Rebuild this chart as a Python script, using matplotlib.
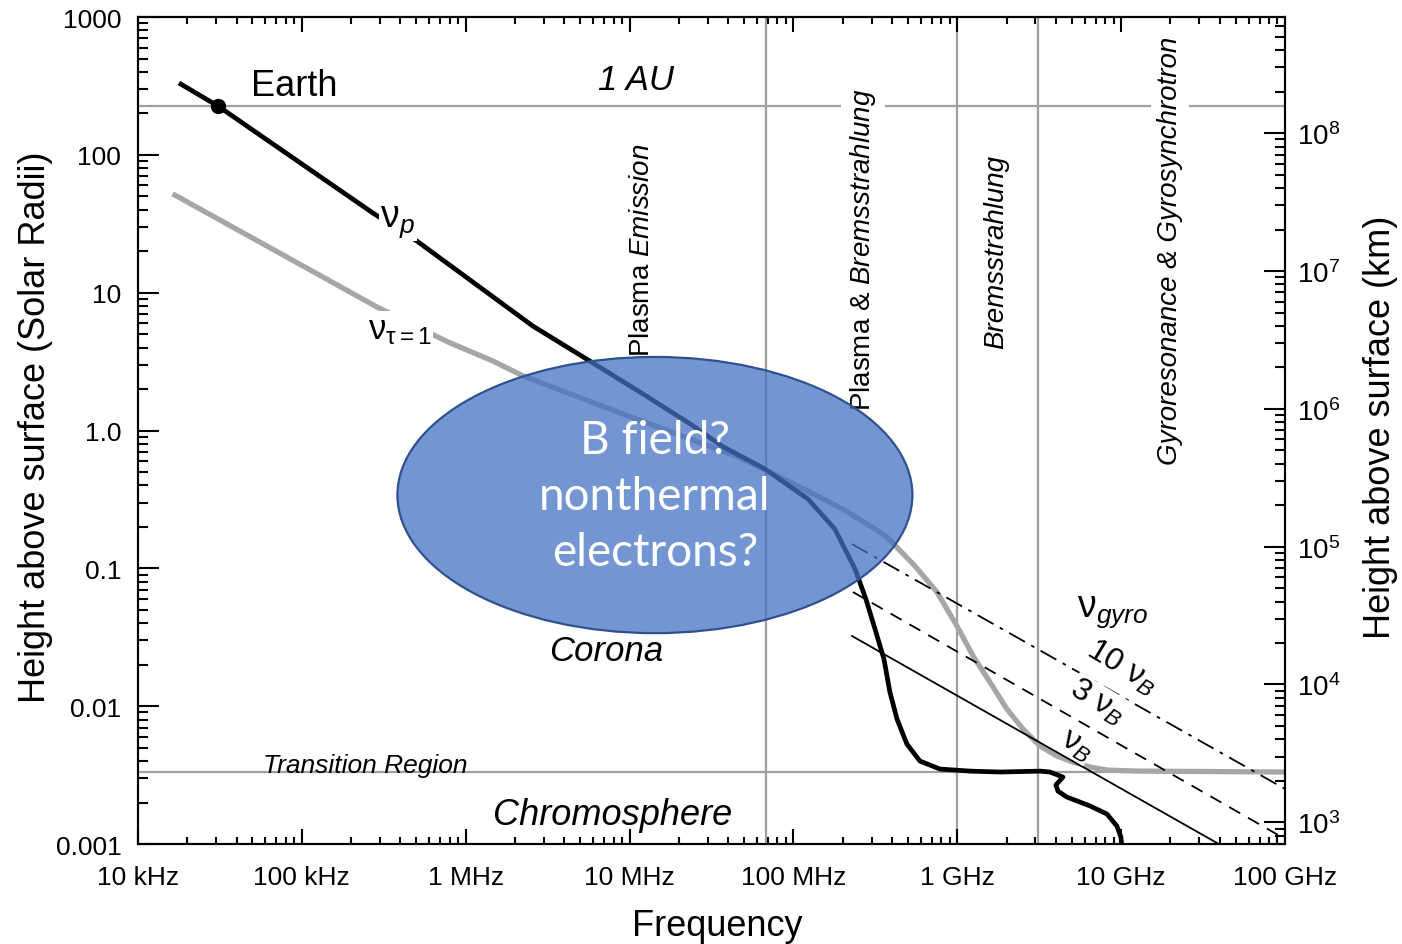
import matplotlib
matplotlib.use('Agg')
import matplotlib.pyplot as plt
from matplotlib.patches import Ellipse
from matplotlib.ticker import LogLocator, NullFormatter

plt.rcParams['font.family'] = ['Liberation Sans', 'DejaVu Sans']
plt.rcParams['mathtext.fontset'] = 'custom'
plt.rcParams['mathtext.rm'] = 'Liberation Sans'
plt.rcParams['mathtext.it'] = 'Liberation Sans:italic'
plt.rcParams['mathtext.bf'] = 'Liberation Sans:bold'

#### values: frequency in Hz, height in solar radii
R_SUN_KM = 6.96e5

nu_p_freq = [1.83e4, 3.08e4, 2.72e5, 5.04e5, 2.57e6, 5.73e6, 1.16e7, 2.34e7, 3.66e7,
             6.71e7, 1.23e8, 1.79e8, 2.38e8, 2.77e8, 3.19e8, 3.57e8, 3.88e8, 4.29e8, 4.93e8,
             5.92e8, 7.84e8, 1.20e9, 1.82e9, 3.20e9, 3.68e9, 4.42e9, 4.00e9, 4.12e9, 4.67e9,
             6.46e9, 8.20e9, 9.43e9, 9.98e9, 1.01e10]
nu_p_height = [326, 226, 37.8, 23.7, 5.73, 3.19, 1.90, 1.12, 0.772,
               0.526, 0.318, 0.193, 0.0989, 0.0599, 0.0345, 0.0220, 0.0127, 0.00807, 0.00531,
               0.00400, 0.00350, 0.00338, 0.00333, 0.00338, 0.00333, 0.00306, 0.00268, 0.00242, 0.00219,
               0.00189, 0.00165, 0.00135, 0.00112, 0.00095]

tau_freq = [1.68e4, 2.88e5, 7.80e5, 1.47e6, 2.24e6, 9.92e6, 4.46e7, 7.00e7, 2.01e8, 3.67e8,
            5.52e8, 7.52e8, 9.96e8, 1.25e9, 1.58e9, 2.01e9, 2.52e9, 3.20e9, 4.06e9, 5.08e9,
            6.46e9, 8.20e9, 1.30e10, 1.0e11]
tau_height = [51.1, 7.87, 4.39, 3.19, 2.49, 1.27, 0.653, 0.508, 0.269, 0.172,
              0.104, 0.0673, 0.0382, 0.0231, 0.0150, 0.00954, 0.00683, 0.00514, 0.00435, 0.00393,
              0.00362, 0.00344, 0.00338, 0.00333]

nuB_freq = [2.28e8, 4.13e10]
nuB_height = [0.0323, 0.00097]
nu3B_freq = [2.31e8, 1.0e11]
nu3B_height = [0.0673, 0.00109]
nu10B_freq = [2.28e8, 1.0e11]
nu10B_height = [0.150, 0.00251]

region_freqs = [6.8e7, 1.0e9, 3.1e9]     ### grey vertical lines
au_height = 226
transition_height = 0.00333
earth_freq = 3.08e4
earth_height = 226

xtick_vals = [1e4, 1e5, 1e6, 1e7, 1e8, 1e9, 1e10, 1e11]
xtick_labels = ['10 kHz', '100 kHz', '1 MHz', '10 MHz', '100 MHz', '1 GHz', '10 GHz', '100 GHz']
ytick_vals = [1e-3, 1e-2, 1e-1, 1, 10, 100, 1000]
ytick_labels = ['0.001', '0.01', '0.1', '1.0', '10', '100', '1000']
km_exponents = [3, 4, 5, 6, 7, 8]

GREY = '#a0a0a0'

fig = plt.figure(figsize=(14.02, 9.45), dpi=100)
ax = fig.add_axes([0.0984, 0.1058, 0.8181, 0.8751])
ax.set_xscale('log')
ax.set_yscale('log')
ax.set_xlim(1e4, 1e11)
ax.set_ylim(1e-3, 1e3)

#### region lines
for f in region_freqs:
    ax.axvline(f, color=GREY, lw=1.6, zorder=1)
ax.axhline(au_height, color=GREY, lw=1.6, zorder=1)
ax.axhline(transition_height, color=GREY, lw=1.6, zorder=1)

#### curves
ax.plot(tau_freq, tau_height, color='#a6a6a6', lw=3.8, zorder=2, solid_joinstyle='round')
ax.plot(nuB_freq, nuB_height, color='black', lw=1.3, zorder=2.5)
ax.plot(nu3B_freq, nu3B_height, color='black', lw=1.3, ls=(0, (7, 5)), zorder=2.5)
ax.plot(nu10B_freq, nu10B_height, color='black', lw=1.3, ls=(0, (10, 4, 2, 4)), zorder=2.5)
ax.plot(nu_p_freq, nu_p_height, color='black', lw=3.4, zorder=3, solid_joinstyle='round')
ax.plot([earth_freq], [earth_height], 'o', color='black', ms=10, zorder=4)

#### labels in the plot
def wbox(p):
    return dict(facecolor='white', edgecolor='none', pad=p)

ax.text(9e4, 320, 'Earth', fontsize=26, ha='center', va='center', zorder=5)
ax.text(1.09e7, 355, '1 AU', fontsize=25, style='italic', ha='center', va='center', zorder=5)
ax.text(1.19e7, 20.7, r'Plasma $\mathit{Emission}$', fontsize=20, rotation=90,
        ha='center', va='center', bbox=wbox(2), zorder=5)
ax.text(2.65e8, 20.7, r'Plasma & $\mathit{Bremsstrahlung}$', fontsize=20, rotation=90,
        ha='center', va='center', bbox=wbox(5), zorder=5)
ax.text(1.72e9, 20, 'Bremsstrahlung', fontsize=20, style='italic', rotation=90,
        ha='center', va='center', zorder=5)
ax.text(1.99e10, 20.3, 'Gyroresonance & Gyrosynchrotron', fontsize=20, style='italic', rotation=90,
        ha='center', va='center', bbox=wbox(4), zorder=5)
ax.text(7.18e6, 0.0255, 'Corona', fontsize=25, style='italic', ha='center', va='center', zorder=5)
ax.text(2.43e5, 0.00374, 'Transition Region', fontsize=19, style='italic', ha='center', va='center', zorder=5)
ax.text(7.93e6, 0.00165, 'Chromosphere', fontsize=26, style='italic', ha='center', va='center', zorder=5)

ax.text(3.86e5, 33, r'$\mathrm{ν}_p$', fontsize=27, ha='center', va='center',
        bbox=wbox(1), zorder=5)
ax.text(3.97e5, 5.45, r'$\mathrm{ν}_{\mathrm{τ}=\mathit{1}}$', fontsize=25, ha='center', va='center',
        bbox=wbox(1), zorder=5)
ax.text(8.9e9, 0.049, r'$\mathrm{ν}_{gyro}$', fontsize=27, ha='center', va='center', zorder=5)
ax.text(1.01e10, 0.0195, r'$\mathit{10}\ \mathrm{ν}_B$', fontsize=23, rotation=-31,
        rotation_mode='anchor', ha='center', va='center', bbox=wbox(0.5), zorder=5)
ax.text(7.2e9, 0.0109, r'$\mathit{3}\ \mathrm{ν}_B$', fontsize=23, rotation=-31,
        rotation_mode='anchor', ha='center', va='center', bbox=wbox(0.5), zorder=5)
ax.text(5.37e9, 0.0053, r'$\mathrm{ν}_B$', fontsize=23, rotation=-31,
        rotation_mode='anchor', ha='center', va='center', bbox=wbox(0.5), zorder=5)

#### axes, ticks
ax.set_xticks(xtick_vals)
ax.set_xticklabels(xtick_labels)
ax.set_yticks(ytick_vals)
ax.set_yticklabels(ytick_labels)
ax.xaxis.set_minor_locator(LogLocator(base=10, subs=range(2, 10), numticks=50))
ax.yaxis.set_minor_locator(LogLocator(base=10, subs=range(2, 10), numticks=50))
ax.xaxis.set_minor_formatter(NullFormatter())
ax.yaxis.set_minor_formatter(NullFormatter())
ax.tick_params(which='both', direction='in', top=True, right=False, width=1.5, labelsize=19)
ax.tick_params(axis='x', which='major', length=11, pad=15)
ax.tick_params(axis='x', which='minor', length=5)
ax.tick_params(axis='y', which='major', length=15, pad=12)
ax.tick_params(axis='y', which='minor', length=7)
for s in ax.spines.values():
    s.set_linewidth(1.5)

ax.set_xlabel('Frequency', fontsize=26)
ax.xaxis.set_label_coords(0.505, -0.077)
ax.set_ylabel('Height above surface (Solar Radii)', fontsize=26)
ax.yaxis.set_label_coords(-0.074, 0.505)

#### right axis in km
ax2 = ax.twinx()
ax2.set_yscale('log')
ax2.set_ylim(1e-3 * R_SUN_KM, 1e3 * R_SUN_KM)
ax2.set_yticks([10.0 ** e for e in km_exponents])
ax2.set_yticklabels([r'$\mathregular{10^{%d}}$' % e for e in km_exponents])
ax2.yaxis.set_minor_locator(LogLocator(base=10, subs=range(2, 10), numticks=50))
ax2.yaxis.set_minor_formatter(NullFormatter())
ax2.tick_params(which='both', direction='in', width=1.5, labelsize=20)
ax2.tick_params(which='major', length=15, pad=9)
ax2.tick_params(which='minor', length=7)
for s in ax2.spines.values():
    s.set_linewidth(1.5)
ax2.set_ylabel('Height above surface (km)', fontsize=26)
ax2.yaxis.set_label_coords(1.068, 0.505)

#### the blue question ellipse
ell = Ellipse((0.4507, 0.422), 0.449, 0.334, transform=ax.transAxes,
              facecolor=(0x44 / 255, 0x72 / 255, 0xC4 / 255, 0.75),
              edgecolor='#2F528F', lw=1.6, zorder=10)
ax.add_patch(ell)
ax.text(0.4507, 0.421, 'B field?\nnonthermal\nelectrons?', transform=ax.transAxes,
        ha='center', va='center', color='white', fontsize=33, family='Lato',
        linespacing=1.42, zorder=11)

fig.savefig('out.png', dpi=100)
